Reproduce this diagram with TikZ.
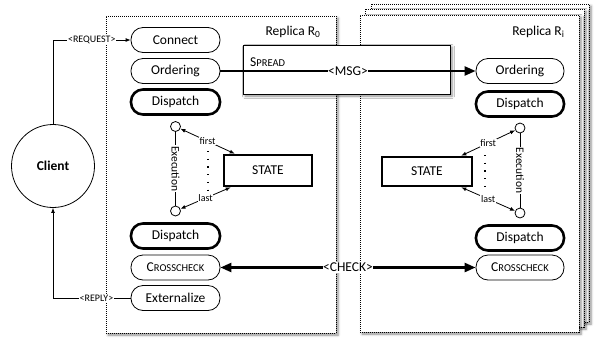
\documentclass[tikz,border=0pt]{standalone}
\usepackage{fontspec}
\setmainfont{Carlito}
\usetikzlibrary{shadows,shadows.blur,arrows.meta,calc}

\newcommand\cfnode{\fontsize{13.5}{15}\selectfont}
\newcommand\cfsmall{\fontsize{11.5}{13}\selectfont}
\newcommand\cftiny{\fontsize{10}{11}\selectfont}
\newcommand\mysc[2]{#1{\fontsize{10.5}{12}\selectfont#2}}

\tikzset{
  thinline/.style={line width=0.8pt},
  pill/.style={draw, line width=0.8pt, rounded corners=12pt, minimum width=89pt,
    minimum height=25pt, inner sep=0pt, fill=white, font=\cfnode},
  pillthick/.style={pill, line width=2.6pt},
  statebox/.style={draw, line width=2.6pt, minimum width=88pt, minimum height=31pt,
    inner sep=0pt, fill=white, font=\cfnode},
  port/.style={circle, draw, line width=0.8pt, minimum size=10pt, inner sep=0pt, fill=white},
  softshadow/.style={blur shadow={shadow xshift=2pt, shadow yshift=-2pt,
    shadow blur radius=2.5pt, shadow blur steps=6, shadow opacity=45}},
  replica/.style={draw, line width=0.8pt, dash pattern=on 1pt off 1pt, fill=white,
    inner sep=0pt, softshadow},
  tip/.style={-{Latex[length=5pt,width=4pt]}},
  twotips/.style={{Latex[length=5pt,width=4pt]}-{Latex[length=5pt,width=4pt]}},
  fat/.style={line width=2.4pt},
  fattip/.style={-{Triangle[length=11pt,width=9pt]}},
  fattwotips/.style={{Triangle[length=11pt,width=9pt]}-{Triangle[length=11pt,width=9pt]}},
  onlinelabel/.style={fill=white, inner sep=0.6pt},
  dotcol/.style={line width=1.2pt, dash pattern=on 1.2pt off 6.5pt},
}

\begin{document}
\begin{tikzpicture}[x=1pt,y=-1pt]
  \useasboundingbox (0,0) rectangle (595,341);

  % stacked replicas R_i (back to front)
  \node[replica, minimum width=218pt, minimum height=318pt] (ri3) at (480,163) {};
  \node[replica, minimum width=219pt, minimum height=318pt] (ri2) at (474.5,168) {};
  \node[replica, minimum width=219pt, minimum height=317pt] (ri) at (469.5,173.5) {};
  % replica R_0
  \node[replica, minimum width=230pt, minimum height=317pt] (r0) at (221,174.5) {};

  \node[anchor=east, font=\cfnode] (r0lab) at (324,32) {Replica R\textsubscript{0}};
  \node[anchor=east, font=\cfnode] (rilab) at (568,32) {Replica R\textsubscript{i}};

  % spread box
  \node[draw, thinline, fill=white, minimum width=207pt, minimum height=49pt,
        inner sep=0pt, softshadow] (spread) at (346.5,69.5) {};
  \node[anchor=west, font=\cfnode, inner sep=0pt] (spreadlab) at (250,62) {\mysc{S}{PREAD}};

  % client
  \node[circle, draw, thinline, minimum size=83pt, font=\bfseries\cfnode] (client) at (53,166) {Client};

  % left replica pipeline
  \node[pill] (connect) at (175.5,40) {Connect};
  \node[pill] (ordL) at (175.5,71) {Ordering};
  \node[pillthick] (dispL1) at (175.5,102) {Dispatch};
  \node[port] (ctopL) at (175.5,126.5) {};
  \node[port] (cbotL) at (175.5,211) {};
  \node[pillthick] (dispL2) at (175.5,236) {Dispatch};
  \node[pill] (crossL) at (175.5,267.5) {\mysc{C}{ROSSCHECK}};
  \node[pill] (extL) at (175.5,298) {Externalize};
  \node[statebox] (stateL) at (268,170.5) {STATE};

  % right replica pipeline
  \node[pill, minimum width=88pt] (ordR) at (520,71) {Ordering};
  \node[pillthick, minimum width=88pt] (dispR1) at (520,104) {Dispatch};
  \node[port] (ctopR) at (520,128) {};
  \node[port] (cbotR) at (520,213) {};
  \node[pillthick, minimum width=88pt] (dispR2) at (520,238) {Dispatch};
  \node[pill, minimum width=88pt] (crossR) at (520,267.5) {\mysc{C}{ROSSCHECK}};
  \node[statebox, minimum width=90pt, minimum height=29pt] (stateR) at (427,171.5) {STATE};

  % execution lines
  \draw[thinline] (ctopL) -- (cbotL)
    node[midway, rotate=-90, onlinelabel, inner sep=1pt, font=\cfsmall] {Execution};
  \draw[thinline] (ctopR) -- (cbotR)
    node[midway, rotate=-90, onlinelabel, inner sep=1pt, font=\cfsmall] {Execution};

  % state access
  \draw[thinline, twotips] ([xshift=12pt]stateL.north west) -- (ctopL)
    node[midway, onlinelabel, font=\cftiny] {first};
  \draw[thinline, twotips] ([xshift=8pt]stateL.south west) -- (cbotL)
    node[midway, onlinelabel, font=\cftiny] {last};
  \draw[thinline, twotips] ([xshift=-12pt]stateR.north east) -- (ctopR)
    node[midway, onlinelabel, font=\cftiny] {first};
  \draw[thinline, twotips] ([xshift=-12pt]stateR.south east) -- (cbotR)
    node[midway, onlinelabel, font=\cftiny] {last};
  \coordinate (dlt) at (208,151);
  \coordinate (dlb) at (208,190);
  \coordinate (drt) at (485,155);
  \coordinate (drb) at (485,193);
  \draw[dotcol] (dlt) -- (dlb);
  \draw[dotcol] (drt) -- (drb);

  % client interaction
  \draw[thinline, tip] (client.north) |- (connect.west)
    node[pos=0.75, onlinelabel, font=\cftiny] {<REQUEST>};
  \draw[thinline, tip] (extL.west) -| (client.south)
    node[pos=0.22, onlinelabel, font=\cftiny] {<REPLY>};

  % inter-replica messages
  \draw[fat, fattip] (ordL.east) -- (ordR.west)
    node[midway, onlinelabel, font=\cfnode] {<MSG>};
  \draw[fat, fattwotips] (crossL.east) -- (crossR.west)
    node[midway, onlinelabel, font=\cfnode] {<CHECK>};
\end{tikzpicture}
\end{document}
